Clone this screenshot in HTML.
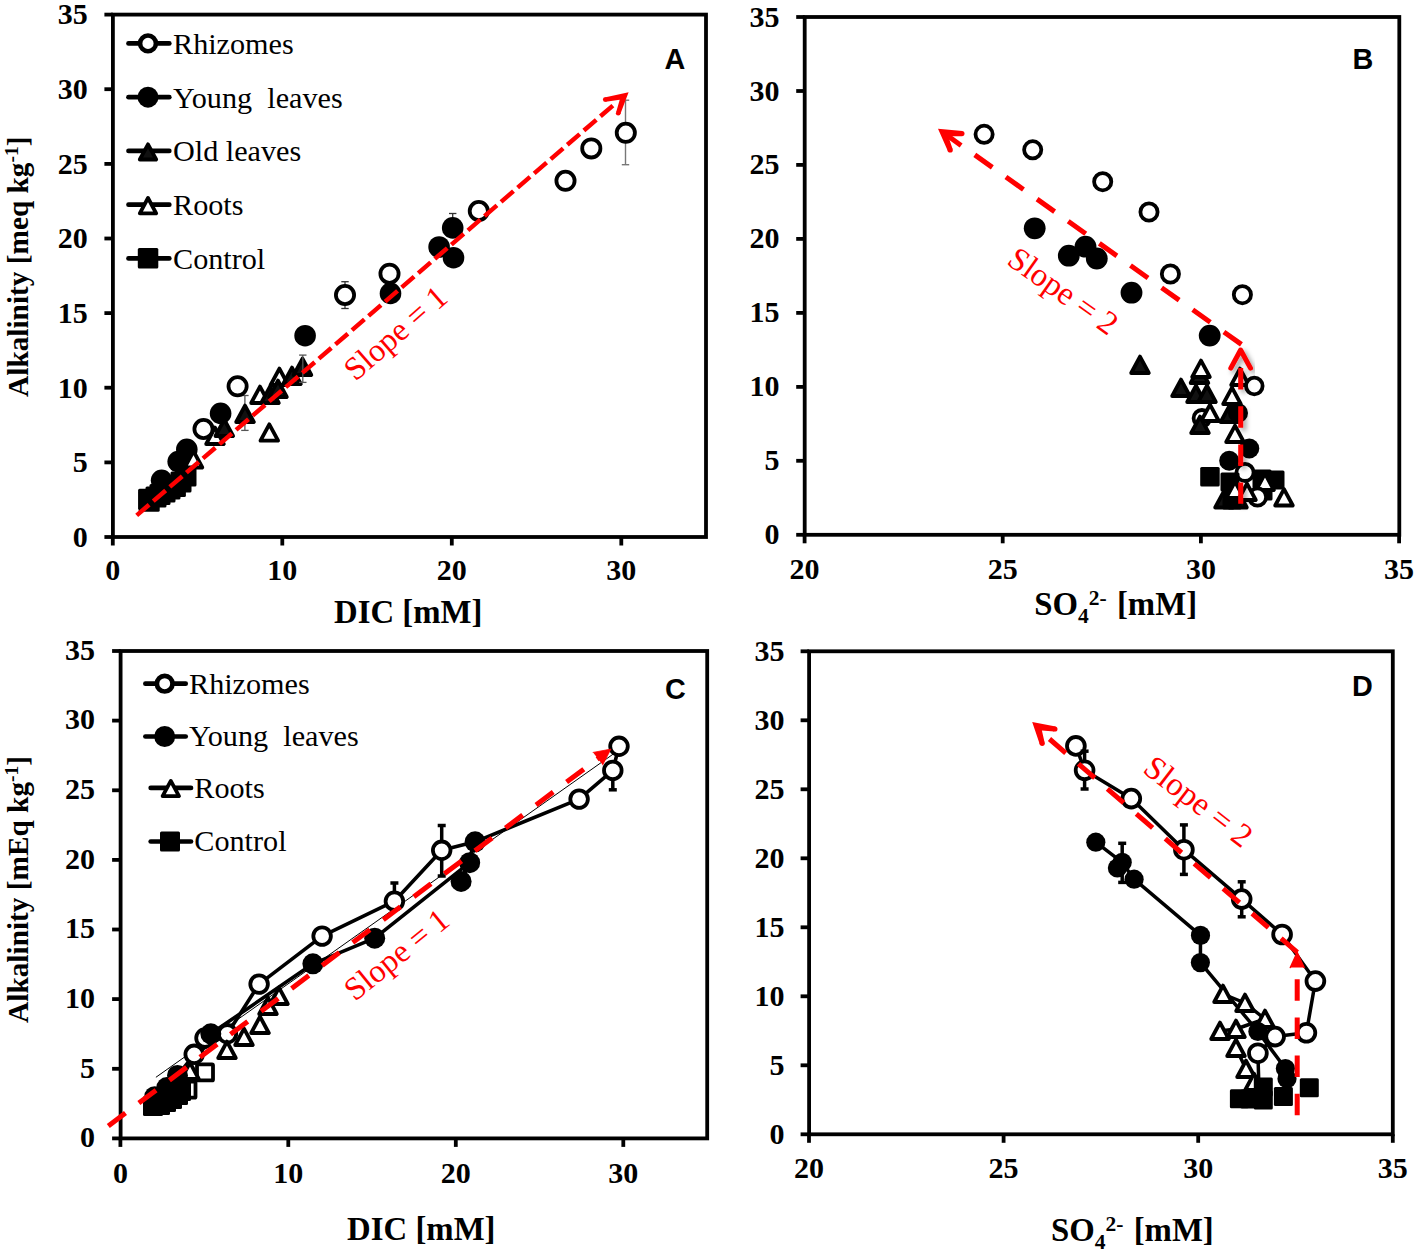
<!DOCTYPE html>
<html><head><meta charset="utf-8"><style>
html,body{margin:0;padding:0;background:#fff;}
body{width:1417px;height:1253px;overflow:hidden;}
svg{display:block;}
</style></head><body>
<svg width="1417" height="1253" viewBox="0 0 1417 1253">
<defs><filter id="sh" x="-20%" y="-20%" width="140%" height="140%"><feDropShadow dx="3" dy="3" stdDeviation="2.8" flood-color="#000" flood-opacity="0.38"/></filter></defs>
<rect width="1417" height="1253" fill="#fff"/>
<rect x="112.9" y="14.6" width="593.1" height="522.4" fill="none" stroke="#000" stroke-width="3.8"/>
<line x1="104.4" y1="537.0" x2="112.9" y2="537.0" stroke="#000" stroke-width="3.8" stroke-linecap="butt" />
<text x="87.8" y="546.8" font-family="'Liberation Serif', serif" font-size="30" font-weight="bold" fill="#000" text-anchor="end" >0</text>
<line x1="104.4" y1="462.4" x2="112.9" y2="462.4" stroke="#000" stroke-width="3.8" stroke-linecap="butt" />
<text x="87.8" y="472.2" font-family="'Liberation Serif', serif" font-size="30" font-weight="bold" fill="#000" text-anchor="end" >5</text>
<line x1="104.4" y1="387.7" x2="112.9" y2="387.7" stroke="#000" stroke-width="3.8" stroke-linecap="butt" />
<text x="87.8" y="397.5" font-family="'Liberation Serif', serif" font-size="30" font-weight="bold" fill="#000" text-anchor="end" >10</text>
<line x1="104.4" y1="313.1" x2="112.9" y2="313.1" stroke="#000" stroke-width="3.8" stroke-linecap="butt" />
<text x="87.8" y="322.9" font-family="'Liberation Serif', serif" font-size="30" font-weight="bold" fill="#000" text-anchor="end" >15</text>
<line x1="104.4" y1="238.5" x2="112.9" y2="238.5" stroke="#000" stroke-width="3.8" stroke-linecap="butt" />
<text x="87.8" y="248.3" font-family="'Liberation Serif', serif" font-size="30" font-weight="bold" fill="#000" text-anchor="end" >20</text>
<line x1="104.4" y1="163.9" x2="112.9" y2="163.9" stroke="#000" stroke-width="3.8" stroke-linecap="butt" />
<text x="87.8" y="173.7" font-family="'Liberation Serif', serif" font-size="30" font-weight="bold" fill="#000" text-anchor="end" >25</text>
<line x1="104.4" y1="89.2" x2="112.9" y2="89.2" stroke="#000" stroke-width="3.8" stroke-linecap="butt" />
<text x="87.8" y="99.0" font-family="'Liberation Serif', serif" font-size="30" font-weight="bold" fill="#000" text-anchor="end" >30</text>
<line x1="104.4" y1="14.6" x2="112.9" y2="14.6" stroke="#000" stroke-width="3.8" stroke-linecap="butt" />
<text x="87.8" y="24.4" font-family="'Liberation Serif', serif" font-size="30" font-weight="bold" fill="#000" text-anchor="end" >35</text>
<line x1="112.8" y1="537.0" x2="112.8" y2="545.5" stroke="#000" stroke-width="3.8" stroke-linecap="butt" />
<text x="112.8" y="580.2" font-family="'Liberation Serif', serif" font-size="30" font-weight="bold" fill="#000" text-anchor="middle" >0</text>
<line x1="282.3" y1="537.0" x2="282.3" y2="545.5" stroke="#000" stroke-width="3.8" stroke-linecap="butt" />
<text x="282.3" y="580.2" font-family="'Liberation Serif', serif" font-size="30" font-weight="bold" fill="#000" text-anchor="middle" >10</text>
<line x1="451.8" y1="537.0" x2="451.8" y2="545.5" stroke="#000" stroke-width="3.8" stroke-linecap="butt" />
<text x="451.8" y="580.2" font-family="'Liberation Serif', serif" font-size="30" font-weight="bold" fill="#000" text-anchor="middle" >20</text>
<line x1="621.3" y1="537.0" x2="621.3" y2="545.5" stroke="#000" stroke-width="3.8" stroke-linecap="butt" />
<text x="621.3" y="580.2" font-family="'Liberation Serif', serif" font-size="30" font-weight="bold" fill="#000" text-anchor="middle" >30</text>
<text x="408.2" y="622.5" font-family="'Liberation Serif', serif" font-size="32.8" font-weight="bold" fill="#000" text-anchor="middle" >DIC [mM]</text>
<text x="28.0" y="266.7" font-family="'Liberation Serif', serif" font-size="29.3" font-weight="bold" fill="#000" text-anchor="middle" transform="rotate(-90 28.0 266.7)" >Alkalinity [meq kg<tspan dy="-10" font-size="19.5">-1</tspan><tspan dy="10">]</tspan></text>
<text x="674.8" y="69.0" font-family="'Liberation Sans', sans-serif" font-size="28.8" font-weight="bold" fill="#000" text-anchor="middle" >A</text>
<line x1="128.5" y1="43.4" x2="169.3" y2="43.4" stroke="#000" stroke-width="4.7" stroke-linecap="round" />
<circle cx="148.0" cy="43.4" r="7.9" fill="#fff" stroke="#000" stroke-width="4.6"/>
<text x="173.0" y="53.7" font-family="'Liberation Serif', serif" font-size="30.2" font-weight="normal" fill="#000" text-anchor="start" >Rhizomes</text>
<line x1="128.5" y1="97.2" x2="169.3" y2="97.2" stroke="#000" stroke-width="4.7" stroke-linecap="round" />
<circle cx="148.0" cy="97.2" r="10.5" fill="#000"/>
<text x="173.0" y="107.5" font-family="'Liberation Serif', serif" font-size="30.2" font-weight="normal" fill="#000" text-anchor="start" >Young&#160; leaves</text>
<line x1="128.5" y1="150.9" x2="169.3" y2="150.9" stroke="#000" stroke-width="4.7" stroke-linecap="round" />
<polygon points="148.0,144.3 156.2,159.5 139.8,159.5" stroke="#000" stroke-width="3.8" fill="#111" stroke-linejoin="round" stroke-linecap="round" />
<text x="173.0" y="161.2" font-family="'Liberation Serif', serif" font-size="30.2" font-weight="normal" fill="#000" text-anchor="start" >Old leaves</text>
<line x1="128.5" y1="204.7" x2="169.3" y2="204.7" stroke="#000" stroke-width="4.7" stroke-linecap="round" />
<polygon points="148.0,198.0 156.2,213.3 139.8,213.3" stroke="#000" stroke-width="3.8" fill="#fff" stroke-linejoin="round" stroke-linecap="round" />
<text x="173.0" y="215.0" font-family="'Liberation Serif', serif" font-size="30.2" font-weight="normal" fill="#000" text-anchor="start" >Roots</text>
<line x1="128.5" y1="258.4" x2="169.3" y2="258.4" stroke="#000" stroke-width="4.7" stroke-linecap="round" />
<rect x="137.8" y="248.1" width="20.5" height="20.5" rx="1.5" fill="#000"/>
<text x="173.0" y="268.7" font-family="'Liberation Serif', serif" font-size="30.2" font-weight="normal" fill="#000" text-anchor="start" >Control</text>
<rect x="138.1" y="488.7" width="21" height="21" rx="1.5" fill="#000"/>
<rect x="138.7" y="490.8" width="21" height="21" rx="1.5" fill="#000"/>
<rect x="145.5" y="486.5" width="21" height="21" rx="1.5" fill="#000"/>
<rect x="149.5" y="483.9" width="21" height="21" rx="1.5" fill="#000"/>
<rect x="154.5" y="481.5" width="21" height="21" rx="1.5" fill="#000"/>
<rect x="159.5" y="478.5" width="21" height="21" rx="1.5" fill="#000"/>
<rect x="164.9" y="476.0" width="21" height="21" rx="1.5" fill="#000"/>
<rect x="170.5" y="471.5" width="21" height="21" rx="1.5" fill="#000"/>
<rect x="175.5" y="465.5" width="21" height="21" rx="1.5" fill="#000"/>
<circle cx="161.6" cy="480.3" r="10.8" fill="#000"/>
<circle cx="178.2" cy="461.6" r="10.8" fill="#000"/>
<circle cx="186.8" cy="449.4" r="10.8" fill="#000"/>
<polygon points="193.5,451.1 202.3,467.5 184.7,467.5" stroke="#000" stroke-width="3.8" fill="#fff" stroke-linejoin="round" stroke-linecap="round" />
<polygon points="215.0,427.6 223.8,444.0 206.2,444.0" stroke="#000" stroke-width="3.8" fill="#fff" stroke-linejoin="round" stroke-linecap="round" />
<polygon points="269.3,424.3 278.1,440.7 260.5,440.7" stroke="#000" stroke-width="3.8" fill="#fff" stroke-linejoin="round" stroke-linecap="round" />
<polygon points="260.0,386.6 268.8,403.0 251.2,403.0" stroke="#000" stroke-width="3.8" fill="#fff" stroke-linejoin="round" stroke-linecap="round" />
<polygon points="279.4,368.6 288.2,385.0 270.6,385.0" stroke="#000" stroke-width="3.8" fill="#fff" stroke-linejoin="round" stroke-linecap="round" />
<circle cx="203.5" cy="429.0" r="9.1" fill="#fff" stroke="#000" stroke-width="3.8"/>
<circle cx="220.6" cy="413.4" r="10.8" fill="#000"/>
<line x1="244.9" y1="395.5" x2="244.9" y2="430.4" stroke="#555" stroke-width="1.3" stroke-linecap="butt" />
<line x1="241.2" y1="395.5" x2="248.6" y2="395.5" stroke="#555" stroke-width="1.3" stroke-linecap="butt" />
<line x1="241.2" y1="430.4" x2="248.6" y2="430.4" stroke="#555" stroke-width="1.3" stroke-linecap="butt" />
<polygon points="224.3,419.6 233.1,436.0 215.5,436.0" stroke="#000" stroke-width="3.8" fill="#111" stroke-linejoin="round" stroke-linecap="round" />
<polygon points="245.0,405.6 253.8,422.0 236.2,422.0" stroke="#000" stroke-width="3.8" fill="#111" stroke-linejoin="round" stroke-linecap="round" />
<polygon points="270.0,386.6 278.8,403.0 261.2,403.0" stroke="#000" stroke-width="3.8" fill="#111" stroke-linejoin="round" stroke-linecap="round" />
<polygon points="278.0,380.6 286.8,397.0 269.2,397.0" stroke="#000" stroke-width="3.8" fill="#111" stroke-linejoin="round" stroke-linecap="round" />
<polygon points="292.0,367.6 300.8,384.0 283.2,384.0" stroke="#000" stroke-width="3.8" fill="#111" stroke-linejoin="round" stroke-linecap="round" />
<polygon points="302.5,358.6 311.3,375.0 293.7,375.0" stroke="#000" stroke-width="3.8" fill="#111" stroke-linejoin="round" stroke-linecap="round" />
<line x1="302.8" y1="355.1" x2="302.8" y2="382.4" stroke="#555" stroke-width="1.3" stroke-linecap="butt" />
<line x1="299.1" y1="355.1" x2="306.5" y2="355.1" stroke="#555" stroke-width="1.3" stroke-linecap="butt" />
<line x1="299.1" y1="382.4" x2="306.5" y2="382.4" stroke="#555" stroke-width="1.3" stroke-linecap="butt" />
<circle cx="237.6" cy="386.3" r="9.1" fill="#fff" stroke="#000" stroke-width="3.8"/>
<circle cx="305.1" cy="335.7" r="10.8" fill="#000"/>
<line x1="345.0" y1="281.7" x2="345.0" y2="308.5" stroke="#333" stroke-width="1.3" stroke-linecap="butt" />
<line x1="341.3" y1="281.7" x2="348.7" y2="281.7" stroke="#333" stroke-width="1.3" stroke-linecap="butt" />
<line x1="341.3" y1="308.5" x2="348.7" y2="308.5" stroke="#333" stroke-width="1.3" stroke-linecap="butt" />
<circle cx="345.0" cy="295.0" r="9.1" fill="#fff" stroke="#000" stroke-width="3.8"/>
<circle cx="389.5" cy="273.7" r="9.1" fill="#fff" stroke="#000" stroke-width="3.8"/>
<circle cx="390.5" cy="293.4" r="10.8" fill="#000"/>
<circle cx="439.1" cy="247.0" r="10.8" fill="#000"/>
<circle cx="453.5" cy="257.7" r="10.8" fill="#000"/>
<line x1="452.7" y1="213.5" x2="452.7" y2="228.0" stroke="#333" stroke-width="1.3" stroke-linecap="butt" />
<line x1="449.0" y1="213.5" x2="456.4" y2="213.5" stroke="#333" stroke-width="1.3" stroke-linecap="butt" />
<line x1="449.0" y1="228.0" x2="456.4" y2="228.0" stroke="#333" stroke-width="1.3" stroke-linecap="butt" />
<circle cx="452.7" cy="227.9" r="10.8" fill="#000"/>
<circle cx="478.8" cy="211.0" r="9.1" fill="#fff" stroke="#000" stroke-width="3.8"/>
<circle cx="565.5" cy="180.8" r="9.1" fill="#fff" stroke="#000" stroke-width="3.8"/>
<circle cx="591.3" cy="148.4" r="9.1" fill="#fff" stroke="#000" stroke-width="3.8"/>
<line x1="625.5" y1="100.2" x2="625.5" y2="164.7" stroke="#777" stroke-width="1.4" stroke-linecap="butt" />
<line x1="621.8" y1="100.2" x2="629.2" y2="100.2" stroke="#777" stroke-width="1.4" stroke-linecap="butt" />
<line x1="621.8" y1="164.7" x2="629.2" y2="164.7" stroke="#777" stroke-width="1.4" stroke-linecap="butt" />
<circle cx="625.8" cy="132.8" r="9.1" fill="#fff" stroke="#000" stroke-width="3.8"/>
<polyline points="136.7,515.4 613.0,105.5" fill="none" stroke="#ff0000" stroke-width="4.5" stroke-dasharray="16.4 5.45" stroke-linejoin="miter"/>
<polygon points="628.60,92.20 604.51,97.41 605.89,101.79 619.71,99.84 616.14,112.28 620.26,114.32" fill="#ff0000" stroke="none"/>
<circle cx="605.20" cy="99.60" r="2.30" fill="#ff0000"/>
<circle cx="618.20" cy="113.30" r="2.30" fill="#ff0000"/>
<text x="0.0" y="0.0" font-family="'Liberation Serif', serif" font-size="32.4" font-weight="normal" fill="#ff0000" text-anchor="start" transform="translate(355.5,382) rotate(-41)">Slope = 1</text>
<rect x="804.7" y="17.0" width="594.6" height="517.8" fill="none" stroke="#000" stroke-width="3.8"/>
<line x1="796.2" y1="534.8" x2="804.7" y2="534.8" stroke="#000" stroke-width="3.8" stroke-linecap="butt" />
<text x="779.5" y="544.3" font-family="'Liberation Serif', serif" font-size="30" font-weight="bold" fill="#000" text-anchor="end" >0</text>
<line x1="796.2" y1="460.8" x2="804.7" y2="460.8" stroke="#000" stroke-width="3.8" stroke-linecap="butt" />
<text x="779.5" y="470.3" font-family="'Liberation Serif', serif" font-size="30" font-weight="bold" fill="#000" text-anchor="end" >5</text>
<line x1="796.2" y1="386.9" x2="804.7" y2="386.9" stroke="#000" stroke-width="3.8" stroke-linecap="butt" />
<text x="779.5" y="396.4" font-family="'Liberation Serif', serif" font-size="30" font-weight="bold" fill="#000" text-anchor="end" >10</text>
<line x1="796.2" y1="312.9" x2="804.7" y2="312.9" stroke="#000" stroke-width="3.8" stroke-linecap="butt" />
<text x="779.5" y="322.4" font-family="'Liberation Serif', serif" font-size="30" font-weight="bold" fill="#000" text-anchor="end" >15</text>
<line x1="796.2" y1="238.9" x2="804.7" y2="238.9" stroke="#000" stroke-width="3.8" stroke-linecap="butt" />
<text x="779.5" y="248.4" font-family="'Liberation Serif', serif" font-size="30" font-weight="bold" fill="#000" text-anchor="end" >20</text>
<line x1="796.2" y1="164.9" x2="804.7" y2="164.9" stroke="#000" stroke-width="3.8" stroke-linecap="butt" />
<text x="779.5" y="174.4" font-family="'Liberation Serif', serif" font-size="30" font-weight="bold" fill="#000" text-anchor="end" >25</text>
<line x1="796.2" y1="91.0" x2="804.7" y2="91.0" stroke="#000" stroke-width="3.8" stroke-linecap="butt" />
<text x="779.5" y="100.5" font-family="'Liberation Serif', serif" font-size="30" font-weight="bold" fill="#000" text-anchor="end" >30</text>
<line x1="796.2" y1="17.0" x2="804.7" y2="17.0" stroke="#000" stroke-width="3.8" stroke-linecap="butt" />
<text x="779.5" y="26.5" font-family="'Liberation Serif', serif" font-size="30" font-weight="bold" fill="#000" text-anchor="end" >35</text>
<line x1="804.6" y1="534.8" x2="804.6" y2="543.3" stroke="#000" stroke-width="3.8" stroke-linecap="butt" />
<text x="804.6" y="578.9" font-family="'Liberation Serif', serif" font-size="30" font-weight="bold" fill="#000" text-anchor="middle" >20</text>
<line x1="1002.7" y1="534.8" x2="1002.7" y2="543.3" stroke="#000" stroke-width="3.8" stroke-linecap="butt" />
<text x="1002.7" y="578.9" font-family="'Liberation Serif', serif" font-size="30" font-weight="bold" fill="#000" text-anchor="middle" >25</text>
<line x1="1200.9" y1="534.8" x2="1200.9" y2="543.3" stroke="#000" stroke-width="3.8" stroke-linecap="butt" />
<text x="1200.9" y="578.9" font-family="'Liberation Serif', serif" font-size="30" font-weight="bold" fill="#000" text-anchor="middle" >30</text>
<line x1="1399.1" y1="534.8" x2="1399.1" y2="543.3" stroke="#000" stroke-width="3.8" stroke-linecap="butt" />
<text x="1399.1" y="578.9" font-family="'Liberation Serif', serif" font-size="30" font-weight="bold" fill="#000" text-anchor="middle" >35</text>
<text x="1115.7" y="615.0" font-family="'Liberation Serif', serif" font-size="32.8" font-weight="bold" fill="#000" text-anchor="middle" >SO<tspan dy="8" font-size="21.5">4</tspan><tspan dy="-18" font-size="21.5">2-</tspan><tspan dy="10" dx="2"> [mM]</tspan></text>
<text x="1362.9" y="68.9" font-family="'Liberation Sans', sans-serif" font-size="28.8" font-weight="bold" fill="#000" text-anchor="middle" >B</text>
<circle cx="984.1" cy="134.3" r="8.6" fill="#fff" stroke="#000" stroke-width="3.8"/>
<circle cx="1032.7" cy="149.8" r="8.6" fill="#fff" stroke="#000" stroke-width="3.8"/>
<circle cx="1102.7" cy="181.7" r="8.6" fill="#fff" stroke="#000" stroke-width="3.8"/>
<circle cx="1149.0" cy="212.0" r="8.6" fill="#fff" stroke="#000" stroke-width="3.8"/>
<circle cx="1170.4" cy="274.0" r="8.6" fill="#fff" stroke="#000" stroke-width="3.8"/>
<circle cx="1242.4" cy="294.7" r="8.6" fill="#fff" stroke="#000" stroke-width="3.8"/>
<circle cx="1034.7" cy="228.3" r="10.9" fill="#000"/>
<circle cx="1068.8" cy="255.7" r="10.9" fill="#000"/>
<circle cx="1085.5" cy="246.7" r="10.9" fill="#000"/>
<circle cx="1096.8" cy="258.5" r="10.9" fill="#000"/>
<circle cx="1131.5" cy="292.7" r="10.9" fill="#000"/>
<circle cx="1209.7" cy="335.6" r="10.9" fill="#000"/>
<polygon points="1140.0,356.6 1148.8,373.0 1131.2,373.0" stroke="#000" stroke-width="3.8" fill="#111" stroke-linejoin="round" stroke-linecap="round" />
<polygon points="1199.5,366.6 1208.3,383.0 1190.7,383.0" stroke="#000" stroke-width="3.8" fill="#111" stroke-linejoin="round" stroke-linecap="round" />
<polygon points="1201.0,360.6 1209.8,377.0 1192.2,377.0" stroke="#000" stroke-width="3.8" fill="#fff" stroke-linejoin="round" stroke-linecap="round" />
<polygon points="1181.0,379.6 1189.8,396.0 1172.2,396.0" stroke="#000" stroke-width="3.8" fill="#111" stroke-linejoin="round" stroke-linecap="round" />
<polygon points="1196.0,385.6 1204.8,402.0 1187.2,402.0" stroke="#000" stroke-width="3.8" fill="#111" stroke-linejoin="round" stroke-linecap="round" />
<polygon points="1207.0,385.6 1215.8,402.0 1198.2,402.0" stroke="#000" stroke-width="3.8" fill="#111" stroke-linejoin="round" stroke-linecap="round" />
<circle cx="1201.9" cy="418.3" r="8.3" fill="#fff" stroke="#000" stroke-width="3.8"/>
<polygon points="1210.0,404.6 1218.8,421.0 1201.2,421.0" stroke="#000" stroke-width="3.8" fill="#fff" stroke-linejoin="round" stroke-linecap="round" />
<polygon points="1200.0,416.6 1208.8,433.0 1191.2,433.0" stroke="#000" stroke-width="3.8" fill="#111" stroke-linejoin="round" stroke-linecap="round" />
<polygon points="1240.0,368.6 1248.8,385.0 1231.2,385.0" stroke="#000" stroke-width="3.8" fill="#fff" stroke-linejoin="round" stroke-linecap="round" />
<circle cx="1254.3" cy="386.0" r="8.3" fill="#fff" stroke="#000" stroke-width="3.8"/>
<polygon points="1232.0,387.6 1240.8,404.0 1223.2,404.0" stroke="#000" stroke-width="3.8" fill="#fff" stroke-linejoin="round" stroke-linecap="round" />
<polygon points="1229.5,405.6 1238.3,422.0 1220.7,422.0" stroke="#000" stroke-width="3.8" fill="#111" stroke-linejoin="round" stroke-linecap="round" />
<circle cx="1238.0" cy="413.0" r="10" fill="#000"/>
<polygon points="1235.0,425.6 1243.8,442.0 1226.2,442.0" stroke="#000" stroke-width="3.8" fill="#fff" stroke-linejoin="round" stroke-linecap="round" />
<circle cx="1249.3" cy="448.5" r="10" fill="#000"/>
<circle cx="1229.2" cy="460.7" r="10" fill="#000"/>
<rect x="1200.2" y="466.9" width="19.5" height="19.5" rx="1.5" fill="#000"/>
<circle cx="1245.0" cy="472.4" r="8.6" fill="#fff" stroke="#000" stroke-width="3.8"/>
<rect x="1252.5" y="469.5" width="19" height="19" rx="1.5" fill="#000"/>
<rect x="1265.5" y="470.5" width="19" height="19" rx="1.5" fill="#000"/>
<rect x="1253.5" y="481.5" width="19" height="19" rx="1.5" fill="#000"/>
<polygon points="1265.0,473.6 1273.8,490.0 1256.2,490.0" stroke="#000" stroke-width="3.8" fill="#fff" stroke-linejoin="round" stroke-linecap="round" />
<rect x="1220.5" y="472.5" width="19" height="19" rx="1.5" fill="#000"/>
<polygon points="1224.0,491.1 1232.8,507.5 1215.2,507.5" stroke="#000" stroke-width="3.8" fill="#111" stroke-linejoin="round" stroke-linecap="round" />
<polygon points="1238.0,491.1 1246.8,507.5 1229.2,507.5" stroke="#000" stroke-width="3.8" fill="#111" stroke-linejoin="round" stroke-linecap="round" />
<rect x="1222.5" y="490.5" width="19" height="19" rx="1.5" fill="#000"/>
<polygon points="1235.0,481.6 1243.8,498.0 1226.2,498.0" stroke="#000" stroke-width="3.8" fill="#fff" stroke-linejoin="round" stroke-linecap="round" />
<circle cx="1257.5" cy="497.0" r="8.6" fill="#fff" stroke="#000" stroke-width="3.8"/>
<polygon points="1247.0,483.6 1255.8,500.0 1238.2,500.0" stroke="#000" stroke-width="3.8" fill="#fff" stroke-linejoin="round" stroke-linecap="round" />
<polygon points="1284.0,489.1 1292.8,505.5 1275.2,505.5" stroke="#000" stroke-width="3.8" fill="#fff" stroke-linejoin="round" stroke-linecap="round" />
<polyline points="974.8,154.9 1241.6,344.5" fill="none" stroke="#ff0000" stroke-width="5" stroke-dasharray="21.5 16.7" stroke-linejoin="miter"/>
<polygon points="938.00,128.80 962.41,131.05 961.39,136.15 948.27,136.17 952.45,148.60 947.95,151.20" fill="#ff0000" stroke="none"/>
<circle cx="961.90" cy="133.60" r="2.60" fill="#ff0000"/>
<circle cx="950.20" cy="149.90" r="2.60" fill="#ff0000"/>
<line x1="946.0" y1="134.5" x2="961.1" y2="145.5" stroke="#ff0000" stroke-width="4.9399999999999995" stroke-linecap="butt" />
<g filter="url(#sh)">
<polyline points="1240.7,368.0 1240.7,503.8" fill="none" stroke="#ff0000" stroke-width="5" stroke-dasharray="21.5 16.7" stroke-linejoin="miter"/>
<polyline points="1230.8,368.1 1240.6,350.0 1250.5,368.1" stroke="#ff0000" stroke-width="5.0" fill="none" stroke-linejoin="round" stroke-linecap="round" />
</g>
<text x="0.0" y="0.0" font-family="'Liberation Serif', serif" font-size="32.8" font-weight="normal" fill="#ff0000" text-anchor="start" transform="translate(1005.5,263.5) rotate(35.3)">Slope = 2</text>
<rect x="120.6" y="651.0" width="586.6" height="487.4" fill="none" stroke="#000" stroke-width="3.8"/>
<line x1="112.1" y1="1138.4" x2="120.6" y2="1138.4" stroke="#000" stroke-width="3.8" stroke-linecap="butt" />
<text x="95.0" y="1147.2" font-family="'Liberation Serif', serif" font-size="30" font-weight="bold" fill="#000" text-anchor="end" >0</text>
<line x1="112.1" y1="1068.8" x2="120.6" y2="1068.8" stroke="#000" stroke-width="3.8" stroke-linecap="butt" />
<text x="95.0" y="1077.6" font-family="'Liberation Serif', serif" font-size="30" font-weight="bold" fill="#000" text-anchor="end" >5</text>
<line x1="112.1" y1="999.1" x2="120.6" y2="999.1" stroke="#000" stroke-width="3.8" stroke-linecap="butt" />
<text x="95.0" y="1007.9" font-family="'Liberation Serif', serif" font-size="30" font-weight="bold" fill="#000" text-anchor="end" >10</text>
<line x1="112.1" y1="929.5" x2="120.6" y2="929.5" stroke="#000" stroke-width="3.8" stroke-linecap="butt" />
<text x="95.0" y="938.3" font-family="'Liberation Serif', serif" font-size="30" font-weight="bold" fill="#000" text-anchor="end" >15</text>
<line x1="112.1" y1="859.9" x2="120.6" y2="859.9" stroke="#000" stroke-width="3.8" stroke-linecap="butt" />
<text x="95.0" y="868.7" font-family="'Liberation Serif', serif" font-size="30" font-weight="bold" fill="#000" text-anchor="end" >20</text>
<line x1="112.1" y1="790.3" x2="120.6" y2="790.3" stroke="#000" stroke-width="3.8" stroke-linecap="butt" />
<text x="95.0" y="799.1" font-family="'Liberation Serif', serif" font-size="30" font-weight="bold" fill="#000" text-anchor="end" >25</text>
<line x1="112.1" y1="720.6" x2="120.6" y2="720.6" stroke="#000" stroke-width="3.8" stroke-linecap="butt" />
<text x="95.0" y="729.4" font-family="'Liberation Serif', serif" font-size="30" font-weight="bold" fill="#000" text-anchor="end" >30</text>
<line x1="112.1" y1="651.0" x2="120.6" y2="651.0" stroke="#000" stroke-width="3.8" stroke-linecap="butt" />
<text x="95.0" y="659.8" font-family="'Liberation Serif', serif" font-size="30" font-weight="bold" fill="#000" text-anchor="end" >35</text>
<line x1="120.4" y1="1138.4" x2="120.4" y2="1146.9" stroke="#000" stroke-width="3.8" stroke-linecap="butt" />
<text x="120.4" y="1182.7" font-family="'Liberation Serif', serif" font-size="30" font-weight="bold" fill="#000" text-anchor="middle" >0</text>
<line x1="288.3" y1="1138.4" x2="288.3" y2="1146.9" stroke="#000" stroke-width="3.8" stroke-linecap="butt" />
<text x="288.3" y="1182.7" font-family="'Liberation Serif', serif" font-size="30" font-weight="bold" fill="#000" text-anchor="middle" >10</text>
<line x1="455.8" y1="1138.4" x2="455.8" y2="1146.9" stroke="#000" stroke-width="3.8" stroke-linecap="butt" />
<text x="455.8" y="1182.7" font-family="'Liberation Serif', serif" font-size="30" font-weight="bold" fill="#000" text-anchor="middle" >20</text>
<line x1="623.3" y1="1138.4" x2="623.3" y2="1146.9" stroke="#000" stroke-width="3.8" stroke-linecap="butt" />
<text x="623.3" y="1182.7" font-family="'Liberation Serif', serif" font-size="30" font-weight="bold" fill="#000" text-anchor="middle" >30</text>
<text x="421.3" y="1240.1" font-family="'Liberation Serif', serif" font-size="32.8" font-weight="bold" fill="#000" text-anchor="middle" >DIC [mM]</text>
<text x="28.0" y="889.4" font-family="'Liberation Serif', serif" font-size="29.3" font-weight="bold" fill="#000" text-anchor="middle" transform="rotate(-90 28.0 889.4)" >Alkalinity [mEq kg<tspan dy="-10" font-size="19.5">-1</tspan><tspan dy="10">]</tspan></text>
<text x="675.4" y="699.1" font-family="'Liberation Sans', sans-serif" font-size="28.8" font-weight="bold" fill="#000" text-anchor="middle" >C</text>
<line x1="145.4" y1="683.7" x2="185.7" y2="683.7" stroke="#000" stroke-width="4.7" stroke-linecap="round" />
<circle cx="164.7" cy="683.7" r="7.8" fill="#fff" stroke="#000" stroke-width="4.7"/>
<text x="189.0" y="693.6" font-family="'Liberation Serif', serif" font-size="30.2" font-weight="normal" fill="#000" text-anchor="start" >Rhizomes</text>
<line x1="145.4" y1="736.5" x2="185.7" y2="736.5" stroke="#000" stroke-width="4.7" stroke-linecap="round" />
<circle cx="164.7" cy="736.5" r="10.5" fill="#000"/>
<text x="189.0" y="746.4" font-family="'Liberation Serif', serif" font-size="30.2" font-weight="normal" fill="#000" text-anchor="start" >Young&#160; leaves</text>
<line x1="150.7" y1="787.9" x2="191.0" y2="787.9" stroke="#000" stroke-width="4.7" stroke-linecap="round" />
<polygon points="170.8,780.9 179.0,796.1 162.6,796.1" stroke="#000" stroke-width="3.8" fill="#fff" stroke-linejoin="round" stroke-linecap="round" />
<text x="194.3" y="797.8" font-family="'Liberation Serif', serif" font-size="30.2" font-weight="normal" fill="#000" text-anchor="start" >Roots</text>
<line x1="150.7" y1="841.5" x2="191.0" y2="841.5" stroke="#000" stroke-width="4.7" stroke-linecap="round" />
<rect x="160.0" y="831.5" width="20" height="20" rx="1.5" fill="#000"/>
<text x="194.3" y="851.4" font-family="'Liberation Serif', serif" font-size="30.2" font-weight="normal" fill="#000" text-anchor="start" >Control</text>
<rect x="179.5" y="1081.7" width="16" height="16" rx="1" fill="#fff" stroke="#000" stroke-width="3.8" stroke-linejoin="round"/>
<rect x="143.0" y="1096.0" width="20" height="20" rx="1.5" fill="#000"/>
<rect x="150.0" y="1095.0" width="20" height="20" rx="1.5" fill="#000"/>
<rect x="156.0" y="1092.0" width="20" height="20" rx="1.5" fill="#000"/>
<rect x="162.0" y="1089.0" width="20" height="20" rx="1.5" fill="#000"/>
<rect x="168.0" y="1085.0" width="20" height="20" rx="1.5" fill="#000"/>
<rect x="171.0" y="1081.0" width="20" height="20" rx="1.5" fill="#000"/>
<rect x="197.0" y="1064.4" width="16" height="16" rx="1" fill="#fff" stroke="#000" stroke-width="3.8" stroke-linejoin="round"/>
<line x1="155.9" y1="1077.3" x2="618.7" y2="750.2" stroke="#000" stroke-width="1.0" stroke-linecap="butt" />
<polyline points="154.7,1096.7 166.8,1087.6 177.5,1075.5 210.8,1033.8 312.9,963.8 374.7,938.2 469.7,862.7 461.1,881.4 475.1,841.8 579.1,799.1" stroke="#000" stroke-width="3.6" fill="none" stroke-linejoin="round" stroke-linecap="round" />
<polyline points="194.2,1054.3 227.4,1033.8 259.1,984.1 322.1,936.1 394.4,901.2 441.7,850.3 475.1,841.8" stroke="#000" stroke-width="3.6" fill="none" stroke-linejoin="round" stroke-linecap="round" />
<polyline points="579.1,799.1 612.8,770.4 619.0,746.3" stroke="#000" stroke-width="3.6" fill="none" stroke-linejoin="round" stroke-linecap="round" />
<circle cx="205.0" cy="1038.0" r="8.8" fill="#fff" stroke="#000" stroke-width="3.8"/>
<circle cx="227.4" cy="1033.8" r="8.8" fill="#fff" stroke="#000" stroke-width="3.8"/>
<circle cx="210.8" cy="1033.8" r="10.5" fill="#000"/>
<polygon points="190.0,1062.6 198.8,1079.0 181.2,1079.0" stroke="#000" stroke-width="3.8" fill="#fff" stroke-linejoin="round" stroke-linecap="round" />
<polygon points="227.0,1041.6 235.8,1058.0 218.2,1058.0" stroke="#000" stroke-width="3.8" fill="#fff" stroke-linejoin="round" stroke-linecap="round" />
<polygon points="244.0,1028.6 252.8,1045.0 235.2,1045.0" stroke="#000" stroke-width="3.8" fill="#fff" stroke-linejoin="round" stroke-linecap="round" />
<polygon points="260.0,1016.6 268.8,1033.0 251.2,1033.0" stroke="#000" stroke-width="3.8" fill="#fff" stroke-linejoin="round" stroke-linecap="round" />
<polygon points="268.0,997.6 276.8,1014.0 259.2,1014.0" stroke="#000" stroke-width="3.8" fill="#fff" stroke-linejoin="round" stroke-linecap="round" />
<polygon points="279.0,987.6 287.8,1004.0 270.2,1004.0" stroke="#000" stroke-width="3.8" fill="#fff" stroke-linejoin="round" stroke-linecap="round" />
<circle cx="154.7" cy="1096.7" r="10.5" fill="#000"/>
<circle cx="166.8" cy="1087.6" r="10.5" fill="#000"/>
<circle cx="177.5" cy="1075.5" r="10.5" fill="#000"/>
<circle cx="194.2" cy="1054.3" r="8.8" fill="#fff" stroke="#000" stroke-width="3.8"/>
<circle cx="259.1" cy="984.1" r="8.8" fill="#fff" stroke="#000" stroke-width="3.8"/>
<circle cx="312.9" cy="963.8" r="10.5" fill="#000"/>
<circle cx="374.7" cy="938.2" r="10.5" fill="#000"/>
<circle cx="322.1" cy="936.1" r="8.8" fill="#fff" stroke="#000" stroke-width="3.8"/>
<line x1="394.4" y1="883.0" x2="394.4" y2="901.0" stroke="#000" stroke-width="3.5" stroke-linecap="butt" />
<line x1="390.4" y1="883.0" x2="398.4" y2="883.0" stroke="#000" stroke-width="3.5" stroke-linecap="butt" />
<line x1="390.4" y1="901.0" x2="398.4" y2="901.0" stroke="#000" stroke-width="3.5" stroke-linecap="butt" />
<circle cx="394.4" cy="901.2" r="8.8" fill="#fff" stroke="#000" stroke-width="3.8"/>
<circle cx="461.1" cy="881.4" r="10.5" fill="#000"/>
<circle cx="469.7" cy="862.7" r="10.5" fill="#000"/>
<circle cx="475.1" cy="841.8" r="10.5" fill="#000"/>
<line x1="441.7" y1="825.5" x2="441.7" y2="876.0" stroke="#000" stroke-width="3.5" stroke-linecap="butt" />
<line x1="437.7" y1="825.5" x2="445.7" y2="825.5" stroke="#000" stroke-width="3.5" stroke-linecap="butt" />
<line x1="437.7" y1="876.0" x2="445.7" y2="876.0" stroke="#000" stroke-width="3.5" stroke-linecap="butt" />
<circle cx="441.7" cy="850.3" r="8.8" fill="#fff" stroke="#000" stroke-width="3.8"/>
<circle cx="579.1" cy="799.1" r="8.8" fill="#fff" stroke="#000" stroke-width="3.8"/>
<line x1="612.8" y1="770.0" x2="612.8" y2="789.8" stroke="#000" stroke-width="3.5" stroke-linecap="butt" />
<line x1="608.8" y1="770.0" x2="616.8" y2="770.0" stroke="#000" stroke-width="3.5" stroke-linecap="butt" />
<line x1="608.8" y1="789.8" x2="616.8" y2="789.8" stroke="#000" stroke-width="3.5" stroke-linecap="butt" />
<circle cx="612.8" cy="770.4" r="8.8" fill="#fff" stroke="#000" stroke-width="3.8"/>
<circle cx="619.0" cy="746.3" r="8.8" fill="#fff" stroke="#000" stroke-width="3.8"/>
<polyline points="108.3,1126.0 600.0,757.0" fill="none" stroke="#ff0000" stroke-width="5" stroke-dasharray="21.5 16.7" stroke-linejoin="miter"/>
<polyline points="593.1,752.4 610.9,749.1 602.7,764.9" stroke="#ff0000" stroke-width="0.8" fill="#ff0000" stroke-linejoin="miter" stroke-linecap="round" />
<text x="0.0" y="0.0" font-family="'Liberation Serif', serif" font-size="32.4" font-weight="normal" fill="#ff0000" text-anchor="start" transform="translate(355,1002) rotate(-39)">Slope = 1</text>
<rect x="809.1" y="651.3" width="583.7" height="483.0" fill="none" stroke="#000" stroke-width="3.8"/>
<line x1="800.6" y1="1134.3" x2="809.1" y2="1134.3" stroke="#000" stroke-width="3.8" stroke-linecap="butt" />
<text x="784.6" y="1143.6" font-family="'Liberation Serif', serif" font-size="30" font-weight="bold" fill="#000" text-anchor="end" >0</text>
<line x1="800.6" y1="1065.3" x2="809.1" y2="1065.3" stroke="#000" stroke-width="3.8" stroke-linecap="butt" />
<text x="784.6" y="1074.6" font-family="'Liberation Serif', serif" font-size="30" font-weight="bold" fill="#000" text-anchor="end" >5</text>
<line x1="800.6" y1="996.3" x2="809.1" y2="996.3" stroke="#000" stroke-width="3.8" stroke-linecap="butt" />
<text x="784.6" y="1005.6" font-family="'Liberation Serif', serif" font-size="30" font-weight="bold" fill="#000" text-anchor="end" >10</text>
<line x1="800.6" y1="927.3" x2="809.1" y2="927.3" stroke="#000" stroke-width="3.8" stroke-linecap="butt" />
<text x="784.6" y="936.6" font-family="'Liberation Serif', serif" font-size="30" font-weight="bold" fill="#000" text-anchor="end" >15</text>
<line x1="800.6" y1="858.3" x2="809.1" y2="858.3" stroke="#000" stroke-width="3.8" stroke-linecap="butt" />
<text x="784.6" y="867.6" font-family="'Liberation Serif', serif" font-size="30" font-weight="bold" fill="#000" text-anchor="end" >20</text>
<line x1="800.6" y1="789.3" x2="809.1" y2="789.3" stroke="#000" stroke-width="3.8" stroke-linecap="butt" />
<text x="784.6" y="798.6" font-family="'Liberation Serif', serif" font-size="30" font-weight="bold" fill="#000" text-anchor="end" >25</text>
<line x1="800.6" y1="720.3" x2="809.1" y2="720.3" stroke="#000" stroke-width="3.8" stroke-linecap="butt" />
<text x="784.6" y="729.6" font-family="'Liberation Serif', serif" font-size="30" font-weight="bold" fill="#000" text-anchor="end" >30</text>
<line x1="800.6" y1="651.3" x2="809.1" y2="651.3" stroke="#000" stroke-width="3.8" stroke-linecap="butt" />
<text x="784.6" y="660.6" font-family="'Liberation Serif', serif" font-size="30" font-weight="bold" fill="#000" text-anchor="end" >35</text>
<line x1="809.0" y1="1134.3" x2="809.0" y2="1142.8" stroke="#000" stroke-width="3.8" stroke-linecap="butt" />
<text x="809.0" y="1178.0" font-family="'Liberation Serif', serif" font-size="30" font-weight="bold" fill="#000" text-anchor="middle" >20</text>
<line x1="1003.6" y1="1134.3" x2="1003.6" y2="1142.8" stroke="#000" stroke-width="3.8" stroke-linecap="butt" />
<text x="1003.6" y="1178.0" font-family="'Liberation Serif', serif" font-size="30" font-weight="bold" fill="#000" text-anchor="middle" >25</text>
<line x1="1198.2" y1="1134.3" x2="1198.2" y2="1142.8" stroke="#000" stroke-width="3.8" stroke-linecap="butt" />
<text x="1198.2" y="1178.0" font-family="'Liberation Serif', serif" font-size="30" font-weight="bold" fill="#000" text-anchor="middle" >30</text>
<line x1="1392.8" y1="1134.3" x2="1392.8" y2="1142.8" stroke="#000" stroke-width="3.8" stroke-linecap="butt" />
<text x="1392.8" y="1178.0" font-family="'Liberation Serif', serif" font-size="30" font-weight="bold" fill="#000" text-anchor="middle" >35</text>
<text x="1132.4" y="1240.7" font-family="'Liberation Serif', serif" font-size="32.8" font-weight="bold" fill="#000" text-anchor="middle" >SO<tspan dy="8" font-size="21.5">4</tspan><tspan dy="-18" font-size="21.5">2-</tspan><tspan dy="10" dx="2"> [mM]</tspan></text>
<text x="1362.3" y="695.5" font-family="'Liberation Sans', sans-serif" font-size="28.8" font-weight="bold" fill="#000" text-anchor="middle" >D</text>
<polyline points="1075.9,745.9 1084.6,770.3 1131.3,798.6 1183.9,849.7 1241.7,899.1 1282.1,934.5 1315.4,981.1 1306.4,1032.8 1275.1,1036.6 1257.9,1053.2 1259.0,1090.0" stroke="#000" stroke-width="3.5" fill="none" stroke-linejoin="round" stroke-linecap="round" />
<polyline points="1095.8,842.2 1122.2,862.4 1134.1,879.2 1200.5,935.4 1200.4,962.6 1257.9,1031.5 1285.4,1068.5 1287.0,1078.8" stroke="#000" stroke-width="3.5" fill="none" stroke-linejoin="round" stroke-linecap="round" />
<polyline points="1223.0,994.0 1245.0,1003.0 1265.0,1019.0 1236.0,1029.0 1220.0,1031.0" stroke="#000" stroke-width="3.5" fill="none" stroke-linejoin="round" stroke-linecap="round" />
<polyline points="1236.0,1029.0 1236.0,1048.0 1246.0,1069.0 1257.0,1090.0" stroke="#000" stroke-width="3.5" fill="none" stroke-linejoin="round" stroke-linecap="round" />
<circle cx="1095.8" cy="842.2" r="9.6" fill="#000"/>
<line x1="1122.2" y1="843.3" x2="1122.2" y2="882.4" stroke="#000" stroke-width="3.5" stroke-linecap="butt" />
<line x1="1118.2" y1="843.3" x2="1126.2" y2="843.3" stroke="#000" stroke-width="3.5" stroke-linecap="butt" />
<line x1="1118.2" y1="882.4" x2="1126.2" y2="882.4" stroke="#000" stroke-width="3.5" stroke-linecap="butt" />
<circle cx="1117.4" cy="868.0" r="9.6" fill="#000"/>
<circle cx="1122.2" cy="862.4" r="9.6" fill="#000"/>
<circle cx="1134.1" cy="879.2" r="9.6" fill="#000"/>
<circle cx="1200.5" cy="935.4" r="9.6" fill="#000"/>
<circle cx="1200.4" cy="962.6" r="9.6" fill="#000"/>
<circle cx="1075.9" cy="745.9" r="8.9" fill="#fff" stroke="#000" stroke-width="3.8"/>
<line x1="1084.6" y1="751.2" x2="1084.6" y2="789.0" stroke="#000" stroke-width="3.5" stroke-linecap="butt" />
<line x1="1080.6" y1="751.2" x2="1088.6" y2="751.2" stroke="#000" stroke-width="3.5" stroke-linecap="butt" />
<line x1="1080.6" y1="789.0" x2="1088.6" y2="789.0" stroke="#000" stroke-width="3.5" stroke-linecap="butt" />
<circle cx="1084.6" cy="770.3" r="8.9" fill="#fff" stroke="#000" stroke-width="3.8"/>
<circle cx="1131.3" cy="798.6" r="8.9" fill="#fff" stroke="#000" stroke-width="3.8"/>
<line x1="1183.9" y1="824.9" x2="1183.9" y2="874.4" stroke="#000" stroke-width="3.5" stroke-linecap="butt" />
<line x1="1179.9" y1="824.9" x2="1187.9" y2="824.9" stroke="#000" stroke-width="3.5" stroke-linecap="butt" />
<line x1="1179.9" y1="874.4" x2="1187.9" y2="874.4" stroke="#000" stroke-width="3.5" stroke-linecap="butt" />
<circle cx="1183.9" cy="849.7" r="8.9" fill="#fff" stroke="#000" stroke-width="3.8"/>
<line x1="1241.7" y1="881.8" x2="1241.7" y2="916.8" stroke="#000" stroke-width="3.5" stroke-linecap="butt" />
<line x1="1237.7" y1="881.8" x2="1245.7" y2="881.8" stroke="#000" stroke-width="3.5" stroke-linecap="butt" />
<line x1="1237.7" y1="916.8" x2="1245.7" y2="916.8" stroke="#000" stroke-width="3.5" stroke-linecap="butt" />
<circle cx="1241.7" cy="899.1" r="8.9" fill="#fff" stroke="#000" stroke-width="3.8"/>
<circle cx="1282.1" cy="934.5" r="8.9" fill="#fff" stroke="#000" stroke-width="3.8"/>
<circle cx="1315.4" cy="981.1" r="8.9" fill="#fff" stroke="#000" stroke-width="3.8"/>
<polygon points="1223.0,985.6 1231.8,1002.0 1214.2,1002.0" stroke="#000" stroke-width="3.8" fill="#fff" stroke-linejoin="round" stroke-linecap="round" />
<polygon points="1245.0,994.6 1253.8,1011.0 1236.2,1011.0" stroke="#000" stroke-width="3.8" fill="#fff" stroke-linejoin="round" stroke-linecap="round" />
<polygon points="1265.0,1010.6 1273.8,1027.0 1256.2,1027.0" stroke="#000" stroke-width="3.8" fill="#fff" stroke-linejoin="round" stroke-linecap="round" />
<polygon points="1220.0,1022.6 1228.8,1039.0 1211.2,1039.0" stroke="#000" stroke-width="3.8" fill="#fff" stroke-linejoin="round" stroke-linecap="round" />
<polygon points="1236.0,1020.6 1244.8,1037.0 1227.2,1037.0" stroke="#000" stroke-width="3.8" fill="#fff" stroke-linejoin="round" stroke-linecap="round" />
<polygon points="1236.0,1039.6 1244.8,1056.0 1227.2,1056.0" stroke="#000" stroke-width="3.8" fill="#fff" stroke-linejoin="round" stroke-linecap="round" />
<polygon points="1246.0,1060.6 1254.8,1077.0 1237.2,1077.0" stroke="#000" stroke-width="3.8" fill="#fff" stroke-linejoin="round" stroke-linecap="round" />
<polygon points="1254.0,1073.6 1262.8,1090.0 1245.2,1090.0" stroke="#000" stroke-width="3.8" fill="#fff" stroke-linejoin="round" stroke-linecap="round" />
<circle cx="1257.9" cy="1031.5" r="9.6" fill="#000"/>
<circle cx="1275.1" cy="1036.6" r="8.9" fill="#fff" stroke="#000" stroke-width="3.8"/>
<circle cx="1306.4" cy="1032.8" r="8.9" fill="#fff" stroke="#000" stroke-width="3.8"/>
<circle cx="1257.9" cy="1053.2" r="8.9" fill="#fff" stroke="#000" stroke-width="3.8"/>
<circle cx="1285.4" cy="1068.5" r="9.6" fill="#000"/>
<circle cx="1287.0" cy="1078.8" r="9.6" fill="#000"/>
<rect x="1229.9" y="1089.3" width="19" height="19" rx="1.5" fill="#000"/>
<rect x="1240.5" y="1089.5" width="19" height="19" rx="1.5" fill="#000"/>
<rect x="1253.8" y="1077.5" width="19" height="19" rx="1.5" fill="#000"/>
<rect x="1253.8" y="1090.5" width="19" height="19" rx="1.5" fill="#000"/>
<rect x="1273.9" y="1087.1" width="19" height="19" rx="1.5" fill="#000"/>
<rect x="1299.8" y="1078.2" width="19" height="19" rx="1.5" fill="#000"/>
<polyline points="1049.5,739.0 1298.0,953.0" fill="none" stroke="#ff0000" stroke-width="5" stroke-dasharray="21.5 16.7" stroke-linejoin="miter"/>
<polyline points="1297.2,979.2 1297.2,1115.5" fill="none" stroke="#ff0000" stroke-width="5" stroke-dasharray="21.5 16.7" stroke-linejoin="miter"/>
<polygon points="1032.20,722.00 1055.67,726.52 1054.13,731.48 1041.90,730.43 1044.55,742.20 1039.85,744.40" fill="#ff0000" stroke="none"/>
<circle cx="1054.90" cy="729.00" r="2.60" fill="#ff0000"/>
<circle cx="1042.20" cy="743.30" r="2.60" fill="#ff0000"/>
<polyline points="1290.3,967.5 1297.2,952.5 1304.1,967.5" stroke="#ff0000" stroke-width="1.5" fill="#ff0000" stroke-linejoin="miter" stroke-linecap="round" />
<text x="0.0" y="0.0" font-family="'Liberation Serif', serif" font-size="33" font-weight="normal" fill="#ff0000" text-anchor="start" transform="translate(1141.5,771.5) rotate(37.5)">Slope = 2</text>
</svg></body></html>
